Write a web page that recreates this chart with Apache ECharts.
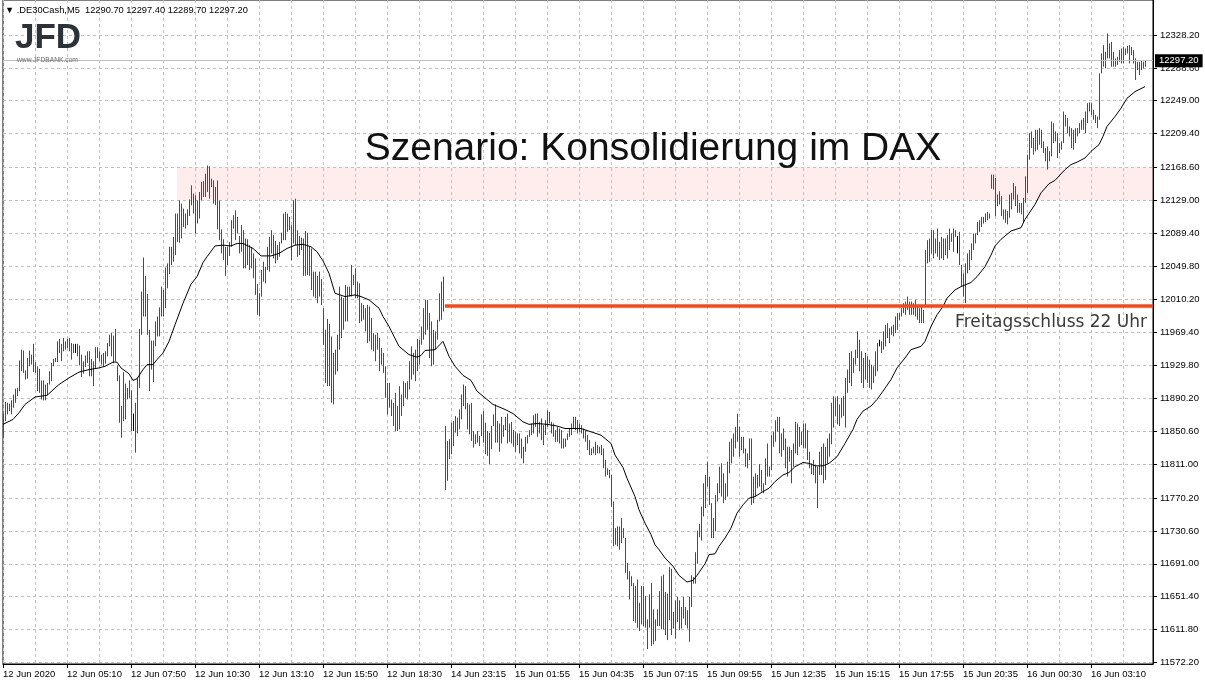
<!DOCTYPE html>
<html>
<head>
<meta charset="utf-8">
<title>DE30Cash M5</title>
<script src="https://cdn.jsdelivr.net/npm/echarts@6/dist/echarts.min.js"></script>
<style>
html, body { margin: 0; padding: 0; background: #fff; }
#chart { width: 1205px; height: 686px; }
</style>
</head>
<body>
<div id="chart"></div>
<script>
// time labels, one every 32 bars (M5)
var xTickLabels = ['12 Jun 2020', '12 Jun 05:10', '12 Jun 07:50', '12 Jun 10:30', '12 Jun 13:10', '12 Jun 15:50',
  '12 Jun 18:30', '14 Jun 23:15', '15 Jun 01:55', '15 Jun 04:35', '15 Jun 07:15', '15 Jun 09:55',
  '15 Jun 12:35', '15 Jun 15:15', '15 Jun 17:55', '15 Jun 20:35', '16 Jun 00:30', '16 Jun 03:10']

// price scale labels
var yTickValues = [12328.2, 12288.6, 12249.0, 12209.4, 12168.6, 12129.0, 12089.4, 12049.8, 12010.2, 11969.4,
  11929.8, 11890.2, 11850.6, 11811.0, 11770.2, 11730.6, 11691.0, 11651.4, 11611.8, 11572.2]

// bar highs, 16 bars per row
var barHigh = [
  11872, 11886, 11885, 11884, 11888, 11895, 11902, 11903, 11936, 11949, 11948, 11924, 11939, 11948, 11943, 11956,
  11934, 11929, 11926, 11912, 11912, 11907, 11909, 11923, 11933, 11938, 11939, 11959, 11962, 11956, 11963, 11959,
  11962, 11963, 11957, 11956, 11956, 11956, 11954, 11943, 11935, 11942, 11947, 11947, 11938, 11935, 11952, 11952,
  11947, 11943, 11945, 11947, 11957, 11967, 11969, 11966, 11974, 11930, 11918, 11881, 11922, 11908, 11903, 11912,
  11900, 11872, 11885, 11915, 11974, 12019, 12060, 12038, 12016, 11973, 11960, 11960, 11983, 11989, 12000, 12025,
  12021, 12048, 12053, 12073, 12073, 12085, 12113, 12113, 12129, 12125, 12119, 12113, 12118, 12130, 12147, 12137,
  12135, 12129, 12139, 12151, 12152, 12161, 12171, 12170, 12155, 12153, 12145, 12153, 12129, 12094, 12082, 12073,
  12073, 12079, 12105, 12111, 12117, 12109, 12086, 12099, 12093, 12083, 12082, 12075, 12073, 12065, 12059, 12028,
  12017, 12045, 12055, 12049, 12073, 12085, 12093, 12087, 12080, 12075, 12079, 12090, 12113, 12115, 12113, 12109,
  12099, 12129, 12131, 12093, 12086, 12084, 12083, 12092, 12090, 12073, 12071, 12043, 12043, 12038, 12043, 12034,
  11999, 11973, 11986, 11980, 11965, 11945, 11949, 11967, 12025, 12013, 12011, 12027, 12025, 12025, 12051, 12039,
  12047, 12031, 12029, 12005, 12003, 11999, 12003, 12001, 11987, 11969, 11967, 11969, 11963, 11951, 11945, 11929,
  11909, 11909, 11889, 11885, 11897, 11881, 11905, 11895, 11911, 11909, 11911, 11935, 11953, 11945, 11949, 11962,
  11961, 11977, 11999, 12009, 12009, 11993, 11983, 11973, 11971, 11985, 12017, 12031, 12037, 11857, 11839, 11841,
  11861, 11863, 11869, 11867, 11877, 11895, 11907, 11905, 11885, 11883, 11885, 11851, 11847, 11851, 11845, 11871,
  11875, 11861, 11851, 11849, 11857, 11871, 11883, 11863, 11860, 11868, 11858, 11868, 11872, 11860, 11862, 11852,
  11850, 11848, 11848, 11842, 11832, 11844, 11846, 11852, 11860, 11870, 11872, 11872, 11862, 11866, 11858, 11864,
  11876, 11874, 11862, 11860, 11852, 11856, 11854, 11852, 11842, 11842, 11848, 11854, 11860, 11868, 11868, 11864,
  11860, 11858, 11854, 11852, 11846, 11840, 11830, 11832, 11838, 11834, 11832, 11834, 11830, 11816, 11806, 11804,
  11798, 11766, 11734, 11736, 11736, 11746, 11734, 11722, 11692, 11682, 11676, 11668, 11664, 11672, 11644, 11664,
  11664, 11652, 11624, 11654, 11668, 11636, 11624, 11636, 11658, 11676, 11678, 11657, 11655, 11687, 11685, 11633,
  11647, 11651, 11647, 11639, 11651, 11639, 11635, 11651, 11677, 11675, 11705, 11731, 11739, 11760, 11788, 11798,
  11814, 11796, 11764, 11746, 11774, 11788, 11808, 11812, 11800, 11788, 11814, 11838, 11842, 11848, 11856, 11872,
  11856, 11844, 11844, 11830, 11824, 11842, 11842, 11796, 11800, 11798, 11811, 11804, 11788, 11818, 11836, 11808,
  11846, 11850, 11864, 11868, 11868, 11848, 11854, 11842, 11832, 11832, 11828, 11836, 11862, 11860, 11856, 11850,
  11860, 11860, 11852, 11826, 11812, 11816, 11810, 11808, 11826, 11832, 11836, 11832, 11842, 11848, 11885, 11893,
  11891, 11893, 11883, 11891, 11893, 11915, 11925, 11945, 11947, 11939, 11949, 11971, 11961, 11947, 11939, 11945,
  11941, 11937, 11931, 11929, 11947, 11957, 11961, 11959, 11971, 11979, 11981, 11975, 11977, 11979, 11989, 11993,
  11993, 11999, 12005, 12007, 12013, 12007, 12007, 12005, 12009, 12001, 11999, 12001, 11997, 12069, 12081, 12083,
  12093, 12093, 12083, 12095, 12079, 12085, 12083, 12083, 12087, 12095, 12089, 12095, 12093, 12086, 12091, 12051,
  12041, 12053, 12065, 12069, 12077, 12089, 12089, 12103, 12105, 12109, 12109, 12113, 12115, 12113, 12160, 12160,
  12156, 12136, 12140, 12134, 12118, 12118, 12116, 12136, 12138, 12150, 12146, 12136, 12126, 12126, 12132, 12158,
  12184, 12210, 12212, 12204, 12214, 12214, 12216, 12214, 12200, 12192, 12194, 12188, 12224, 12222, 12212, 12210,
  12198, 12200, 12236, 12232, 12228, 12218, 12216, 12214, 12216, 12216, 12222, 12226, 12228, 12236, 12246, 12247,
  12246, 12238, 12232, 12230, 12282, 12306, 12316, 12308, 12330, 12318, 12320, 12308, 12300, 12302, 12310, 12312,
  12314, 12312, 12315, 12316, 12314, 12310, 12300, 12296, 12296, 12298, 12296, 12297
]

// bar lows, 16 bars per row
var barLow = [
  11843, 11863, 11871, 11875, 11871, 11879, 11885, 11893, 11899, 11923, 11921, 11913, 11914, 11929, 11931, 11922,
  11921, 11899, 11897, 11889, 11888, 11888, 11894, 11907, 11911, 11929, 11934, 11934, 11945, 11935, 11947, 11949,
  11951, 11947, 11937, 11945, 11945, 11941, 11930, 11916, 11920, 11928, 11933, 11917, 11917, 11905, 11927, 11939,
  11935, 11931, 11929, 11932, 11941, 11953, 11941, 11933, 11935, 11911, 11861, 11843, 11863, 11865, 11889, 11891,
  11851, 11851, 11825, 11848, 11903, 11967, 11989, 11989, 11967, 11899, 11925, 11910, 11953, 11965, 11965, 11989,
  11989, 11999, 12023, 12040, 12051, 12055, 12063, 12079, 12078, 12083, 12097, 12095, 12099, 12110, 12123, 12113,
  12089, 12101, 12107, 12129, 12133, 12133, 12139, 12131, 12145, 12125, 12123, 12094, 12081, 12065, 12057, 12038,
  12051, 12062, 12073, 12095, 12081, 12089, 12065, 12067, 12047, 12047, 12051, 12045, 12047, 12035, 12015, 11991,
  11989, 12013, 12031, 12029, 12045, 12043, 12065, 12059, 12053, 12057, 12061, 12077, 12081, 12081, 12091, 12093,
  12057, 12077, 12075, 12061, 12063, 12069, 12038, 12038, 12039, 12038, 12021, 12013, 12011, 12005, 12013, 12003,
  11955, 11909, 11905, 11905, 11885, 11883, 11919, 11923, 11949, 11963, 11973, 11983, 11983, 12013, 12013, 12027,
  12011, 12011, 11981, 11983, 11985, 11971, 11957, 11959, 11949, 11947, 11935, 11949, 11923, 11931, 11921, 11891,
  11871, 11879, 11869, 11857, 11851, 11851, 11853, 11869, 11881, 11891, 11889, 11901, 11913, 11919, 11911, 11923,
  11931, 11955, 11961, 11967, 11973, 11939, 11929, 11931, 11949, 11961, 11983, 11985, 11995, 11780, 11791, 11817,
  11823, 11833, 11849, 11845, 11853, 11865, 11881, 11877, 11853, 11847, 11839, 11831, 11835, 11837, 11833, 11845,
  11837, 11823, 11821, 11811, 11829, 11857, 11837, 11837, 11826, 11836, 11844, 11852, 11836, 11838, 11836, 11832,
  11826, 11834, 11824, 11818, 11812, 11826, 11836, 11844, 11846, 11848, 11856, 11844, 11848, 11840, 11834, 11846,
  11856, 11860, 11848, 11844, 11838, 11838, 11836, 11830, 11830, 11832, 11840, 11844, 11846, 11854, 11852, 11848,
  11850, 11848, 11842, 11838, 11828, 11822, 11822, 11824, 11822, 11824, 11824, 11822, 11806, 11796, 11798, 11794,
  11760, 11712, 11714, 11712, 11708, 11716, 11722, 11680, 11672, 11648, 11664, 11622, 11620, 11614, 11610, 11618,
  11616, 11614, 11588, 11614, 11592, 11594, 11598, 11616, 11616, 11612, 11612, 11605, 11599, 11623, 11605, 11613,
  11601, 11621, 11611, 11613, 11625, 11617, 11613, 11597, 11639, 11667, 11667, 11691, 11723, 11719, 11748, 11758,
  11784, 11762, 11722, 11722, 11730, 11766, 11776, 11772, 11764, 11768, 11772, 11800, 11812, 11820, 11830, 11838,
  11820, 11828, 11824, 11808, 11806, 11816, 11762, 11764, 11772, 11782, 11784, 11778, 11776, 11786, 11796, 11796,
  11804, 11832, 11838, 11850, 11824, 11820, 11828, 11806, 11796, 11814, 11788, 11808, 11824, 11822, 11832, 11834,
  11830, 11830, 11816, 11806, 11799, 11798, 11788, 11758, 11798, 11798, 11788, 11792, 11812, 11820, 11835, 11855,
  11869, 11859, 11857, 11867, 11869, 11855, 11897, 11909, 11905, 11921, 11931, 11939, 11923, 11909, 11903, 11913,
  11909, 11903, 11901, 11909, 11917, 11923, 11953, 11945, 11949, 11953, 11963, 11957, 11967, 11965, 11969, 11973,
  11985, 11989, 11993, 11991, 11997, 11991, 11991, 11991, 11989, 11985, 11981, 11981, 11981, 12001, 12053, 12055,
  12065, 12059, 12065, 12061, 12057, 12059, 12057, 12063, 12059, 12069, 12079, 12067, 12085, 12065, 12051, 12025,
  12013, 12005, 12041, 12045, 12057, 12069, 12077, 12087, 12091, 12097, 12101, 12103, 12105, 12107, 12143, 12142,
  12110, 12122, 12124, 12110, 12106, 12102, 12100, 12108, 12118, 12130, 12122, 12114, 12114, 12112, 12102, 12126,
  12138, 12178, 12192, 12184, 12188, 12190, 12196, 12192, 12186, 12176, 12166, 12176, 12182, 12198, 12200, 12180,
  12186, 12190, 12198, 12218, 12210, 12206, 12192, 12190, 12198, 12206, 12210, 12214, 12214, 12210, 12222, 12236,
  12232, 12226, 12222, 12216, 12226, 12282, 12290, 12288, 12300, 12300, 12290, 12290, 12290, 12292, 12296, 12294,
  12294, 12304, 12306, 12294, 12304, 12294, 12274, 12286, 12280, 12286, 12288, 12290
]

// u = up bar (green), d = down bar (red), n = unchanged (black)
var barDir = (
  'uudduuuuuudduudu' + 'dddudduuuuuuddud' + 'uuddnddduuuduuud' + 'duuuuuddddduuddu' +
  'dnuuuuuddduuuuuu' + 'duuuuuuudduuduud' + 'dduuduuddduddddd' + 'uuuudududduduudd' +
  'uuuduuddduuuudud' + 'duddudddddduudud' + 'dduuduuuuudduudd' + 'dudduddudddudddd' +
  'dududududuuududu' + 'duuuddduuuududuu' + 'uuuduuuddudddudu' + 'duuududduuuuddud' +
  'dddduuuuuuuddduu' + 'udddduddddduuudd' + 'dddddduuuduudddu' + 'dduuuddddduduudd' +
  'uduudduuudduuudd' + 'udduddduuuuuduuu' + 'dddduuuduuuuuudu' + 'dduduududduduudu' +
  'uuuudddduuuuuduu' + 'duddduduuuduuuuu' + 'ddduuuuuudduduud' + 'udduuunduuududuu' +
  'uuudduddudduduuu' + 'ududdudduuudundd' + 'duuuuuduuuuuuudu' + 'ddudddduuudddduu' +
  'uudduduuddduuddd' + 'uuuddudduuuuduud' + 'dddduuudududuuuu' + 'udududdududu'
).split('')

// moving average, read at these bar positions
var maIdx = [0, 5, 8, 11, 16, 22, 28, 33, 38, 43, 48, 51, 55, 57, 59, 63, 65, 67, 70, 72,
  75, 77, 80, 83, 86, 90, 94, 97, 100, 102, 106, 110, 114, 117, 120, 125, 129, 134, 138, 142,
  146, 150, 154, 157, 160, 163, 166, 171, 176, 179, 183, 188, 190, 193, 198, 203, 207, 209, 211, 216,
  220, 223, 226, 230, 234, 237, 241, 245, 247, 251, 255, 260, 263, 267, 272, 277, 281, 289, 294, 299,
  302, 304, 306, 310, 312, 316, 318, 321, 324, 326, 328, 331, 335, 338, 342, 345, 347, 351, 353, 356,
  358, 361, 364, 367, 370, 373, 376, 380, 383, 386, 390, 393, 396, 400, 403, 406, 410, 413, 417, 421,
  425, 427, 430, 434, 437, 440, 444, 447, 451, 454, 459, 461, 464, 467, 470, 472, 476, 479, 481, 484,
  487, 491, 494, 496, 499, 504, 509, 511, 516, 519, 523, 526, 531, 534, 537, 541, 544, 546, 548, 550,
  552, 556, 559, 562, 566, 571]
var maVal = [11859, 11865, 11873, 11883, 11892, 11894, 11907, 11915, 11922, 11925, 11927, 11929, 11934, 11934, 11927, 11920, 11912, 11914, 11925, 11931,
  11931, 11937, 11945, 11959, 11979, 12005, 12028, 12037, 12054, 12061, 12074, 12075, 12074, 12077, 12077, 12071, 12062, 12062, 12065, 12071,
  12075, 12076, 12073, 12067, 12056, 12041, 12017, 12013, 12015, 12013, 12009, 11999, 11989, 11977, 11953, 11943, 11940, 11942, 11948, 11949,
  11959, 11941, 11929, 11918, 11912, 11899, 11891, 11883, 11881, 11877, 11872, 11862, 11859, 11860, 11859, 11857, 11854, 11854, 11850, 11846,
  11840, 11836, 11822, 11807, 11794, 11772, 11756, 11740, 11726, 11714, 11708, 11698, 11688, 11677, 11669, 11671, 11677, 11691, 11702, 11703,
  11712, 11722, 11734, 11752, 11762, 11770, 11772, 11778, 11782, 11790, 11798, 11801, 11808, 11813, 11812, 11809, 11809, 11812, 11820, 11836,
  11853, 11865, 11875, 11881, 11889, 11899, 11913, 11927, 11939, 11949, 11953, 11959, 11977, 11991, 12001, 12011, 12021, 12025, 12027, 12030,
  12037, 12049, 12063, 12074, 12082, 12092, 12096, 12106, 12124, 12138, 12149, 12153, 12166, 12172, 12175, 12180, 12188, 12192, 12196, 12206,
  12218, 12230, 12240, 12252, 12260, 12266]

var lastPrice = 12297.2
var fridayClose = 12002
var fridayCloseFrom = 221
var zoneTop = 12169.5
var zoneBottom = 12129.4
var zoneFrom = 87
var slotCount = 576 // bars plus the empty shift on the right

var dirColor = { u: '#008000', d: '#ff0000', n: '#000000' }
var gridColor = '#c0c0c0'
var font = '"Liberation Sans", Arial, sans-serif'

var categories = []
for (var i = 0; i < slotCount; i++) {
  categories.push(i % 32 === 0 && xTickLabels[i / 32] ? xTickLabels[i / 32] : '')
}
var bars = barHigh.map(function (h, i) { return [i, barLow[i], h] })
var maData = maIdx.map(function (idx, k) { return [idx, maVal[k]] })

function renderBar (params, api) {
  var i = api.value(0)
  var lo = api.coord([i, api.value(1)])
  var hi = api.coord([i, api.value(2)])
  var x = Math.round(lo[0]) + 0.5
  var y1 = hi[1]
  var y2 = lo[1]
  if (y2 - y1 < 1) y1 = y2 - 1
  return {
    type: 'line',
    shape: { x1: x, y1: y1, x2: x, y2: y2 },
    style: { stroke: dirColor[barDir[params.dataIndex]] || '#000', lineWidth: 1 }
  }
}

var everyLabel = function (i) { return i % 32 === 0 }

var myChart = echarts.init(document.getElementById('chart'))
var option = {
  animation: false,
  backgroundColor: '#fff',
  textStyle: { fontFamily: font },
  grid: { left: 3, right: 52, top: 0, bottom: 22, show: true, borderColor: '#000', borderWidth: 1 },
  xAxis: {
    type: 'category',
    data: categories,
    boundaryGap: false,
    axisLine: { show: true, lineStyle: { color: '#000', width: 1 } },
    axisTick: { show: true, length: 4, interval: everyLabel, lineStyle: { color: '#000' } },
    axisLabel: {
      interval: everyLabel,
      align: 'left',
      color: '#000',
      fontSize: 9.5,
      fontFamily: font,
      margin: 5
    },
    splitLine: {
      show: true,
      interval: function (i) { return i % 16 === 0 },
      lineStyle: { color: gridColor, type: [3, 3], width: 1 }
    }
  },
  yAxis: {
    type: 'value',
    position: 'right',
    min: 11570.2,
    max: 12370.4,
    axisLine: { show: true, lineStyle: { color: '#000' } },
    axisTick: { show: true, length: 4, customValues: yTickValues, lineStyle: { color: '#000' } },
    axisLabel: {
      customValues: yTickValues,
      formatter: function (v) { return v.toFixed(2) },
      color: '#000',
      fontSize: 9.5,
      fontFamily: font,
      margin: 7
    },
    splitLine: { show: true, lineStyle: { color: gridColor, type: [3, 3], width: 1 } }
  },
  graphic: [
    {
      type: 'text', x: 5, y: 10, z: 10,
      style: { text: '\u25BC .DE30Cash,M5  12290.70 12297.40 12289.70 12297.20', font: '9.3px ' + font, fill: '#000', verticalAlign: 'middle' }
    },
    {
      type: 'text', x: 15, y: 38, z: 10,
      style: { text: 'JFD', font: 'bold 35px ' + font, fill: '#2d3138', verticalAlign: 'middle' }
    },
    {
      type: 'text', x: 17, y: 60, z: 10,
      style: { text: 'www.JFDBANK.com', font: '6.7px ' + font, fill: '#6a6a6a', verticalAlign: 'middle' }
    },
    {
      type: 'text', x: 653, y: 149, z: 10,
      style: { text: 'Szenario: Konsolidierung im DAX', font: '39px ' + font, fill: '#111', align: 'center', verticalAlign: 'middle' }
    }
  ],
  series: [
    {
      // resistance zone
      type: 'line',
      data: [],
      z: 1,
      silent: true,
      markArea: {
        silent: true,
        itemStyle: { color: 'rgba(255, 180, 180, 0.25)' },
        data: [[{ xAxis: zoneFrom, yAxis: zoneTop }, { xAxis: slotCount - 1, yAxis: zoneBottom }]]
      }
    },
    {
      name: 'DE30',
      type: 'custom',
      renderItem: renderBar,
      data: bars,
      encode: { x: 0, y: [1, 2] },
      z: 2,
      silent: true
    },
    {
      name: 'MA',
      type: 'line',
      data: maData,
      showSymbol: false,
      symbol: 'none',
      lineStyle: { color: '#000', width: 1 },
      z: 3,
      silent: true
    },
    {
      // bid line and Friday close
      type: 'line',
      data: [],
      z: 4,
      silent: true,
      markLine: {
        silent: true,
        symbol: 'none',
        animation: false,
        data: [
          {
            yAxis: lastPrice,
            lineStyle: { color: gridColor, width: 1, type: 'solid' },
            label: {
              show: true,
              position: 'end',
              distance: 2,
              formatter: '12297.20',
              color: '#fff',
              backgroundColor: '#000',
              padding: [2, 4, 1, 4],
              fontSize: 9.5,
              fontFamily: font
            }
          },
          [
            {
              coord: [fridayCloseFrom, fridayClose],
              lineStyle: { color: '#ff4416', width: 3.5, type: 'solid' },
              label: {
                show: true,
                position: 'insideEndBottom',
                distance: [6, 8],
                formatter: 'Freitagsschluss 22 Uhr',
                color: '#3a3a3a',
                fontSize: 17,
                fontFamily: '"DejaVu Sans", sans-serif'
              }
            },
            { coord: [slotCount - 1, fridayClose] }
          ]
        ]
      }
    }
  ]
}

option && myChart.setOption(option)
</script>
</body>
</html>
